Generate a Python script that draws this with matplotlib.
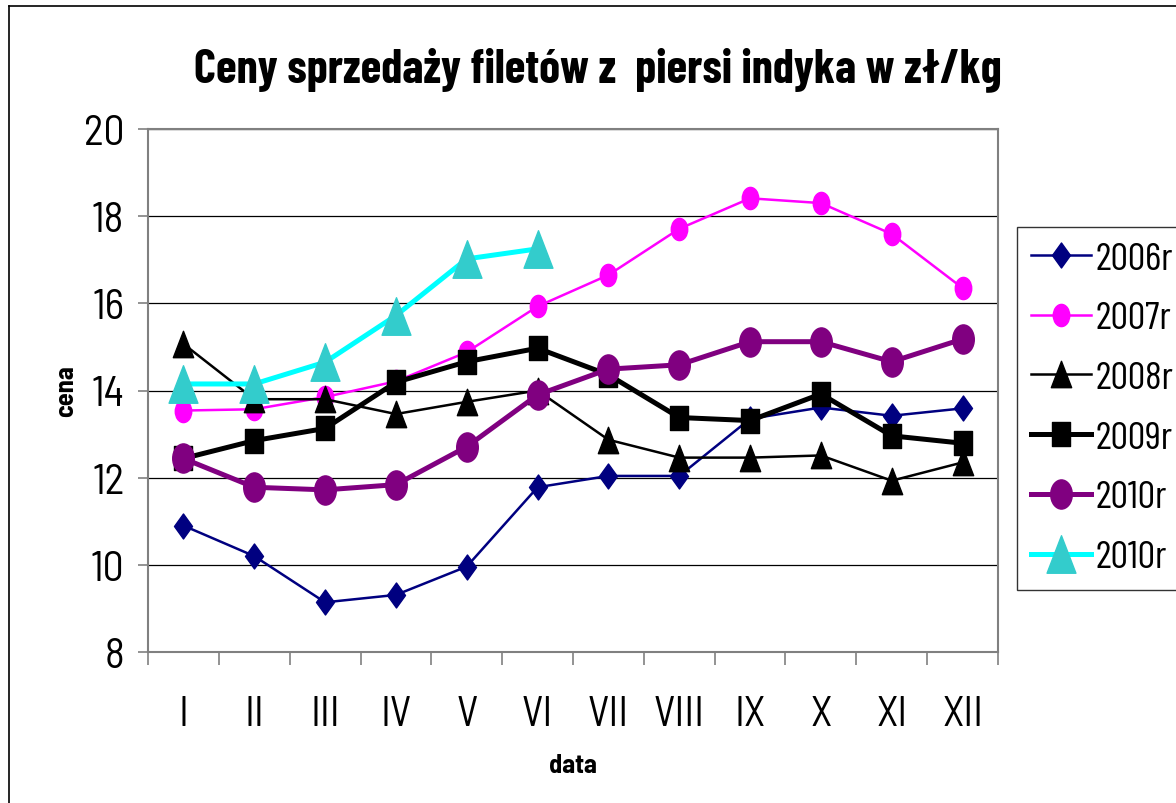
import numpy as np
import matplotlib
matplotlib.use('Agg')
import matplotlib.pyplot as plt
from matplotlib.path import Path
from matplotlib.lines import Line2D

months = ['I', 'II', 'III', 'IV', 'V', 'VI', 'VII', 'VIII', 'IX', 'X', 'XI', 'XII']

price_2006 = [10.90, 10.20, 9.14, 9.31, 9.96, 11.78, 12.04, 12.04, 13.35, 13.61, 13.42, 13.59]
price_2007 = [13.54, 13.57, 13.85, 14.21, 14.88, 15.93, 16.65, 17.71, 18.41, 18.30, 17.59, 16.35]
price_2008 = [15.07, 13.80, 13.80, 13.46, 13.74, 14.00, 12.87, 12.46, 12.46, 12.51, 11.93, 12.35]
price_2009 = [12.44, 12.85, 13.13, 14.19, 14.66, 14.97, 14.36, 13.38, 13.31, 13.92, 12.96, 12.79]
price_2010 = [12.44, 11.78, 11.72, 11.84, 12.71, 13.90, 14.49, 14.59, 15.12, 15.12, 14.66, 15.18]
price_2010b = [14.15, 14.15, 14.65, 15.72, 17.02, 17.25]

labels = ['2006r', '2007r', '2008r', '2009r', '2010r', '2010r']

# narrow sans, close to the Arial Narrow look of the original
plt.rcParams['font.family'] = ['Barlow Semi Condensed', 'Liberation Sans', 'DejaVu Sans']
narrow = ['Barlow Condensed', 'Liberation Sans', 'DejaVu Sans']


def stretched(verts):
    # markers in the original are taller than wide
    verts = list(verts) + [verts[0]]
    codes = [Path.MOVETO] + [Path.LINETO] * (len(verts) - 2) + [Path.CLOSEPOLY]
    return Path(verts, codes)


circle = Path(Path.unit_circle().vertices * np.array([0.74, 1.0]), Path.unit_circle().codes)
diamond = stretched([(0, 1), (0.72, 0), (0, -1), (-0.72, 0)])
square = stretched([(-0.74, -1), (0.74, -1), (0.74, 1), (-0.74, 1)])
triangle = stretched([(0, 1), (0.77, -1), (-0.77, -1)])

fig = plt.figure(figsize=(11.76, 8.04), dpi=100)
ax = fig.add_axes([148 / 1176, 1 - 653 / 804, 850 / 1176, 523 / 804])

x = np.arange(len(months))
ax.plot(x, price_2006, color='#000080', lw=1.8, marker=diamond, ms=18,
        mfc='#000080', mec='#000080', label=labels[0])
ax.plot(x, price_2007, color='#FF00FF', lw=1.8, marker=circle, ms=16,
        mfc='#FF00FF', mec='#FF00FF', label=labels[1])
ax.plot(x, price_2008, color='black', lw=1.8, marker=triangle, ms=19,
        mfc='black', mec='black', label=labels[2])
ax.plot(x, price_2009, color='black', lw=3.6, marker=square, ms=17,
        mfc='black', mec='black', label=labels[3])
ax.plot(x, price_2010, color='#800080', lw=3.6, marker=circle, ms=21,
        mfc='#800080', mec='#800080', label=labels[4])
ax.plot(x[:len(price_2010b)], price_2010b, color='#00FFFF', lw=3.6, marker=triangle, ms=27,
        mfc='#33CCCC', mec='#33CCCC', label=labels[5])

ax.set_ylim(8, 20)
ax.set_yticks(np.arange(8, 21, 2))
ax.yaxis.grid(True, color='black', lw=0.9)
ax.set_axisbelow(True)

ax.set_xlim(-0.5, len(months) - 0.5)
ax.set_xticks(np.arange(-0.5, len(months), 1.0))
ax.set_xticklabels([])
ax.set_xticks(x, minor=True)
ax.set_xticklabels(months, minor=True)
ax.tick_params(axis='x', which='major', direction='out', length=9, width=1.2, color='#808080')
ax.tick_params(axis='x', which='minor', length=0, pad=31, labelsize=30)
ax.tick_params(axis='y', direction='out', length=7, width=1.2, color='#808080', pad=10, labelsize=30)

for spine in ax.spines.values():
    spine.set_color('#808080')
    spine.set_linewidth(1.5)

ax.set_xlabel('data', fontsize=19, fontweight='bold', labelpad=14)
ax.set_ylabel('cena', fontsize=19, fontweight='bold', labelpad=4)

fig.text(598 / 1176, 1 - 82 / 804, 'Ceny sprzedaży filetów z  piersi indyka w zł/kg',
         ha='center', va='baseline', fontsize=34, fontweight='bold', family=narrow)

leg = fig.legend(loc='upper left', bbox_to_anchor=(1017 / 1176, 1 - 228 / 804),
                 prop={'family': narrow, 'size': 28}, frameon=True, fancybox=False,
                 edgecolor='black', handlelength=1.52, handletextpad=0.12,
                 labelspacing=0.63, borderpad=0.37, borderaxespad=0)
leg.get_frame().set_linewidth(1.0)

# outer chart border
fig.add_artist(Line2D([9 / 1176, 9 / 1176], [0, 1 - 7 / 804], transform=fig.transFigure,
                      color='black', lw=1.2))
fig.add_artist(Line2D([9 / 1176, 1], [1 - 7 / 804, 1 - 7 / 804], transform=fig.transFigure,
                      color='black', lw=1.2))

fig.savefig('out.png', dpi=100)
